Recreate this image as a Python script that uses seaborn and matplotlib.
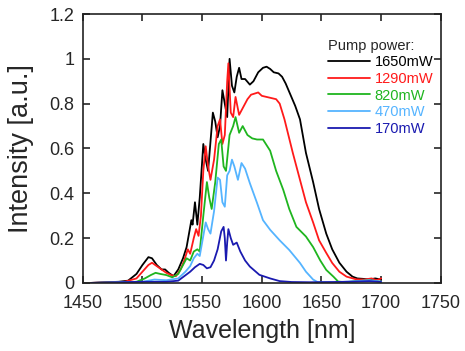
import numpy as np
import pandas as pd
import matplotlib
matplotlib.use("Agg")
import matplotlib.pyplot as plt
import seaborn as sns

sns.set_style("ticks")
plt.rcParams['font.family'] = ['Liberation Sans', 'DejaVu Sans']

# spectra (wavelength nm, intensity a.u.)
wl_1650 = [1457, 1470, 1480, 1488, 1495, 1500, 1505, 1508, 1512, 1516, 1519, 1522, 1526, 1530, 1534,
           1537, 1539, 1541, 1542, 1544, 1546, 1548, 1551, 1553, 1555, 1559, 1561, 1563, 1565, 1567,
           1569, 1571, 1573, 1575, 1577, 1579, 1581, 1583, 1586, 1590, 1593, 1597, 1601, 1604, 1607,
           1610, 1614, 1617, 1620, 1624, 1628, 1632, 1637, 1643, 1648, 1654, 1659, 1665, 1671, 1676,
           1680, 1685, 1690, 1695, 1700]
int_1650 = [0.0, 0.003, 0.005, 0.01, 0.04, 0.08, 0.115, 0.11, 0.08, 0.06, 0.06, 0.045, 0.03, 0.06, 0.11,
            0.16, 0.22, 0.28, 0.26, 0.36, 0.26, 0.38, 0.62, 0.55, 0.50, 0.76, 0.72, 0.65, 0.70, 0.86,
            0.80, 0.74, 1.0, 0.88, 0.85, 0.92, 0.96, 0.91, 0.91, 0.885, 0.90, 0.94, 0.96, 0.965, 0.955,
            0.94, 0.935, 0.92, 0.89, 0.84, 0.79, 0.73, 0.58, 0.45, 0.33, 0.22, 0.15, 0.09, 0.05, 0.028,
            0.02, 0.018, 0.015, 0.02, 0.015]

wl_1290 = [1457, 1470, 1485, 1495, 1500, 1505, 1508, 1512, 1516, 1520, 1524, 1528, 1532, 1535, 1538,
           1540, 1543, 1545, 1547, 1549, 1551, 1553, 1555, 1557, 1560, 1563, 1565, 1567, 1569, 1571,
           1572, 1574, 1576, 1578, 1581, 1584, 1588, 1591, 1594, 1597, 1600, 1604, 1608, 1612, 1615,
           1619, 1626, 1632, 1637, 1643, 1648, 1654, 1659, 1665, 1671, 1679, 1686, 1692, 1696, 1700]
int_1290 = [0.0, 0.002, 0.005, 0.02, 0.05, 0.08, 0.09, 0.075, 0.06, 0.045, 0.035, 0.03, 0.06, 0.10, 0.15,
            0.13, 0.20, 0.24, 0.21, 0.30, 0.50, 0.61, 0.52, 0.46, 0.55, 0.70, 0.73, 0.62, 0.66, 0.90,
            0.98, 0.76, 0.74, 0.83, 0.75, 0.78, 0.82, 0.84, 0.845, 0.85, 0.835, 0.83, 0.825, 0.82, 0.80,
            0.73, 0.58, 0.46, 0.36, 0.27, 0.19, 0.134, 0.089, 0.05, 0.028, 0.016, 0.015, 0.02, 0.012, 0.02]

wl_820 = [1460, 1480, 1495, 1502, 1507, 1511, 1515, 1520, 1525, 1530, 1534, 1537, 1540, 1543, 1546,
          1548, 1551, 1554, 1556, 1558, 1561, 1564, 1566, 1568, 1570, 1573, 1576, 1578, 1581, 1584,
          1588, 1592, 1596, 1601, 1607, 1612, 1618, 1623, 1629, 1637, 1643, 1649, 1654, 1660, 1664,
          1670, 1680, 1690, 1700]
int_820 = [0.0, 0.002, 0.005, 0.02, 0.035, 0.045, 0.04, 0.035, 0.025, 0.04, 0.08, 0.11, 0.10, 0.14, 0.15,
           0.14, 0.30, 0.45, 0.38, 0.33, 0.45, 0.62, 0.64, 0.52, 0.50, 0.66, 0.70, 0.74, 0.67, 0.70,
           0.66, 0.645, 0.64, 0.64, 0.59, 0.50, 0.415, 0.33, 0.25, 0.207, 0.16, 0.10, 0.058, 0.028, 0.006,
           0.003, 0.008, 0.012, 0.005]

wl_470 = [1460, 1480, 1500, 1510, 1520, 1530, 1536, 1540, 1543, 1546, 1548, 1550, 1553, 1555, 1557,
          1560, 1563, 1565, 1567, 1569, 1571, 1573, 1575, 1577, 1580, 1583, 1586, 1590, 1596, 1601,
          1607, 1615, 1623, 1632, 1637, 1643, 1647, 1660, 1680, 1690, 1700]
int_470 = [0.0, 0.003, 0.005, 0.015, 0.012, 0.02, 0.05, 0.075, 0.11, 0.13, 0.12, 0.18, 0.27, 0.24, 0.22,
           0.32, 0.47, 0.46, 0.36, 0.34, 0.48, 0.50, 0.55, 0.52, 0.46, 0.535, 0.51, 0.445, 0.357, 0.28,
           0.237, 0.19, 0.147, 0.089, 0.05, 0.015, 0.003, 0.002, 0.008, 0.012, 0.006]

wl_170 = [1457, 1480, 1500, 1520, 1530, 1535, 1540, 1544, 1548, 1551, 1554, 1557, 1560, 1563, 1566,
          1568, 1569, 1570, 1571, 1572, 1574, 1576, 1579, 1582, 1586, 1590, 1598, 1607, 1615, 1625,
          1640, 1660, 1680, 1690, 1700]
int_170 = [0.0, 0.003, 0.005, 0.005, 0.01, 0.03, 0.05, 0.07, 0.085, 0.08, 0.065, 0.07, 0.10, 0.15, 0.23,
           0.25, 0.20, 0.10, 0.18, 0.24, 0.20, 0.17, 0.18, 0.14, 0.10, 0.073, 0.036, 0.02, 0.008, 0.004,
           0.003, 0.004, 0.006, 0.008, 0.004]

labels = ["1650mW", "1290mW", "820mW", "470mW", "170mW"]
colors = ["#000000", "#ff1a1a", "#1fb51f", "#55b4ff", "#1a1ab0"]
series = [(wl_1650, int_1650), (wl_1290, int_1290), (wl_820, int_820), (wl_470, int_470), (wl_170, int_170)]

df = pd.concat([pd.DataFrame({"wl": w, "I": i, "pump": lab}) for (w, i), lab in zip(series, labels)],
               ignore_index=True)

fig = plt.figure(figsize=(4.65, 3.51), dpi=100)
ax = fig.add_axes([0.178, 0.194, 0.770, 0.766])
sns.lineplot(data=df, x="wl", y="I", hue="pump", hue_order=labels,
             palette=dict(zip(labels, colors)), sort=False, estimator=None,
             linewidth=1.3, ax=ax)

ax.set_xlim(1450, 1750)
ax.set_ylim(0, 1.2)
ax.set_xticks(np.arange(1450, 1751, 50))
ax.set_yticks([0, 0.2, 0.4, 0.6, 0.8, 1.0, 1.2])
ax.set_yticklabels(["0", "0.2", "0.4", "0.6", "0.8", "1", "1.2"])
ax.tick_params(direction="in", top=True, right=True, length=5, width=1.2, labelsize=13)
ax.tick_params(axis="x", pad=9)
ax.tick_params(axis="y", pad=6)
for s in ax.spines.values():
    s.set_linewidth(1.2)
    s.set_color("#222222")
ax.set_xlabel("Wavelength [nm]", fontsize=18, labelpad=5)
ax.set_ylabel("Intensity [a.u.]", fontsize=19.5, labelpad=11)

leg = ax.legend(title="Pump power:", frameon=False, loc="upper right",
                bbox_to_anchor=(0.995, 0.93), fontsize=10.5, title_fontsize=10.5,
                handlelength=2.9, handletextpad=0.3, labelspacing=0.18,
                labelcolor="linecolor", alignment="left", borderaxespad=0)
for h in leg.get_lines():
    h.set_linewidth(1.3)

fig.savefig("out.png", dpi=100)
